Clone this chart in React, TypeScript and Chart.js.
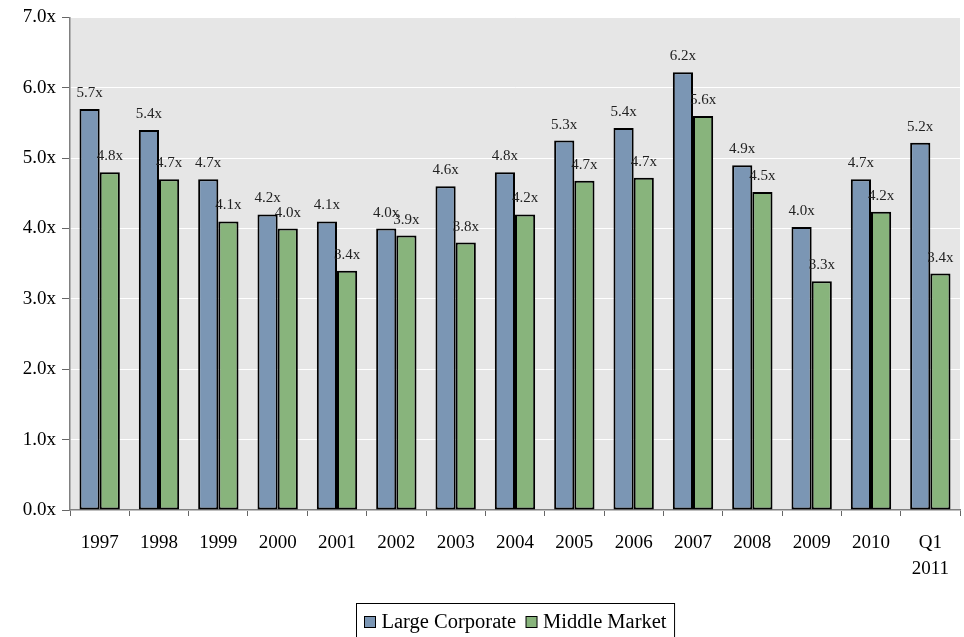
import React, { useEffect, useRef } from "react";
import { Chart, registerables } from "chart.js";

Chart.register(...registerables);

const categories: (string | string[])[] = ["1997", "1998", "1999", "2000", "2001", "2002", "2003", "2004", "2005", "2006", "2007", "2008", "2009", "2010", ["Q1", "2011"]];
const largeCorporate = [5.7, 5.4, 4.7, 4.2, 4.1, 4.0, 4.6, 4.8, 5.25, 5.43, 6.22, 4.9, 4.02, 4.7, 5.22];
const middleMarket = [4.8, 4.7, 4.1, 4.0, 3.4, 3.9, 3.8, 4.2, 4.68, 4.72, 5.6, 4.52, 3.25, 4.24, 3.36];
const seriesNames = ["Large Corporate", "Middle Market"];
const seriesColors = ["#7b96b4", "#88b47c"];

const SERIF = "'Liberation Serif', 'Times New Roman', serif";

const bgPlugin = {
  id: "plotBg",
  beforeDraw(chart: any) {
    const { ctx, chartArea } = chart;
    ctx.save();
    ctx.fillStyle = "#e6e6e6";
    ctx.fillRect(chartArea.left, chartArea.top, chartArea.right - chartArea.left, chartArea.bottom - chartArea.top);
    ctx.restore();
  },
};

const labelPlugin = {
  id: "barLabels",
  afterDatasetsDraw(chart: any) {
    const { ctx } = chart;
    ctx.save();
    ctx.font = `15px ${SERIF}`;
    ctx.fillStyle = "#222";
    ctx.textAlign = "center";
    ctx.textBaseline = "alphabetic";
    chart.data.datasets.forEach((ds: any, i: number) => {
      const meta = chart.getDatasetMeta(i);
      meta.data.forEach((bar: any, j: number) => {
        const v = ds.data[j] as number;
        ctx.fillText(v.toFixed(1) + "x", bar.x, bar.y - 12);
      });
    });
    ctx.restore();
  },
};

const legendPlugin = {
  id: "boxLegend",
  afterDraw(chart: any) {
    const { ctx, chartArea } = chart;
    ctx.save();
    ctx.font = `20.5px ${SERIF}`;
    const pad = 8, sq = 11, gap = 6, between = 10;
    const widths = seriesNames.map((n) => ctx.measureText(n).width);
    let total = pad * 2 + between * (seriesNames.length - 1);
    widths.forEach((w) => (total += sq + gap + w));
    const cx = (chartArea.left + chartArea.right) / 2;
    const left = Math.round(cx - total / 2) + 0.5;
    const top = 603.5;
    ctx.strokeStyle = "#000";
    ctx.lineWidth = 1;
    ctx.strokeRect(left, top, total, 50);
    let x = left + pad;
    const cy = 623;
    seriesNames.forEach((n, i) => {
      ctx.fillStyle = seriesColors[i];
      ctx.fillRect(x, cy - sq / 2 - 1, sq, sq);
      ctx.strokeStyle = "#000";
      ctx.strokeRect(x, cy - sq / 2 - 1, sq, sq);
      x += sq + gap;
      ctx.fillStyle = "#000";
      ctx.textBaseline = "middle";
      ctx.textAlign = "left";
      ctx.fillText(n, x, cy);
      x += widths[i] + between;
    });
    ctx.restore();
  },
};

export default function App() {
  const ref = useRef<HTMLCanvasElement>(null);
  useEffect(() => {
    document.body.style.margin = "0";
    const chart = new Chart(ref.current!, {
      type: "bar",
      data: {
        labels: categories,
        datasets: [
          { label: seriesNames[0], data: largeCorporate, backgroundColor: seriesColors[0], borderColor: "#000", borderWidth: 2, borderSkipped: false },
          { label: seriesNames[1], data: middleMarket, backgroundColor: seriesColors[1], borderColor: "#000", borderWidth: 2, borderSkipped: false },
        ],
      },
      options: {
        animation: false,
        responsive: false,
        devicePixelRatio: 1,
        layout: { padding: { top: 16, right: 4, left: 0, bottom: 0 } },
        datasets: { bar: { categoryPercentage: 0.68, barPercentage: 1 } },
        plugins: { legend: { display: false }, tooltip: { enabled: false } },
        scales: {
          x: {
            afterFit(scale: any) { scale.height = 127; },
            grid: { display: true, drawOnChartArea: false, drawTicks: true, tickLength: 6, tickColor: "#666", offset: true },
            border: { display: true, color: "#808080", width: 1.5 },
            ticks: { color: "#000", font: { family: SERIF, size: 19, lineHeight: 1.38 }, padding: 14, maxRotation: 0, autoSkip: false },
          },
          y: {
            min: 0,
            max: 7,
            afterFit(scale: any) { scale.width = 70; },
            grid: { color: "#ffffff", lineWidth: 1, drawTicks: true, tickLength: 8, tickColor: "#666" },
            border: { display: true, color: "#808080", width: 1.5 },
            ticks: { stepSize: 1, color: "#000", font: { family: SERIF, size: 19 }, padding: 6, callback: (v: any) => Number(v).toFixed(1) + "x" },
          },
        },
      },
      plugins: [bgPlugin, labelPlugin, legendPlugin],
    });
    return () => chart.destroy();
  }, []);
  return (
    <div style={{ width: 964, height: 637 }}>
      <canvas ref={ref} width={964} height={637} style={{ display: "block" }} />
    </div>
  );
}
